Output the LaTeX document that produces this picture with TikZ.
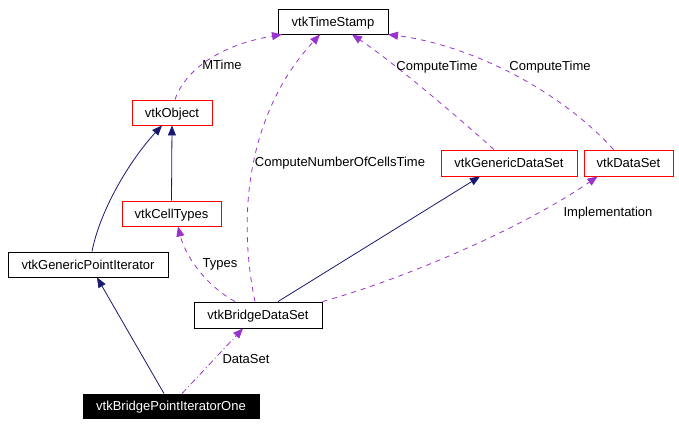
\documentclass[tikz,border=0pt]{standalone}
\usepackage{fontspec}
\setmainfont{Liberation Sans}
\usetikzlibrary{arrows.meta,calc}
\definecolor{navy}{HTML}{191970}
\definecolor{purp}{HTML}{9A32CD}
\begin{document}
\begin{tikzpicture}[x=1pt,y=-1pt,
  box/.style={draw=black,line width=0.9pt,rectangle,inner sep=0pt,font=\fontsize{13}{15}\selectfont,fill=white,text height=9.3pt,text depth=0pt},
  redbox/.style={box,draw=red},
  inh/.style={draw=navy,line width=0.8pt,-{Triangle[length=10pt,width=8pt,fill=navy]}},
  dep/.style={draw=purp,line width=0.8pt,dash pattern=on 5pt off 5pt,-{Triangle[length=10pt,width=8pt,fill=purp]}},
  depdot/.style={dep,dash pattern=on 6pt off 3pt on 1pt off 3pt},
  lbl/.style={font=\fontsize{13}{15}\selectfont,inner sep=0pt,text height=9.3pt,text depth=0pt}]
\useasboundingbox (0,0) rectangle (679,426);
\fill[white] (0,0) rectangle (679,426);
\node[box,minimum width=110pt,minimum height=25pt] (ts) at (333,21.5) {vtkTimeStamp};
\node[redbox,minimum width=80pt,minimum height=25pt] (obj) at (172,112.5) {vtkObject};
\node[redbox,minimum width=99pt,minimum height=25pt] (ct) at (171.5,213.5) {vtkCellTypes};
\node[box,minimum width=160pt,minimum height=25pt] (gpi) at (88,264.5) {vtkGenericPointIterator};
\node[box,minimum width=128pt,minimum height=26pt] (bds) at (258,315) {vtkBridgeDataSet};
\node[box,fill=black,text=white,minimum width=176pt,minimum height=24pt] (bpi) at (171,406) {vtkBridgePointIteratorOne};
\node[redbox,minimum width=136pt,minimum height=26pt] (gds) at (509,163) {vtkGenericDataSet};
\node[redbox,minimum width=89pt,minimum height=26pt] (ds) at (628.5,163) {vtkDataSet};
% inheritance
\draw[inh] (ct.north) -- (obj.south);
\draw[inh] ([xshift=4pt]gpi.north) .. controls (100,210) and (130,160) .. ([xshift=-10pt]obj.south);
\draw[inh] ([xshift=-7pt]bpi.north) -- ([xshift=9pt]gpi.south);
\draw[inh] ([xshift=20pt]bds.north) -- ([xshift=-29pt]gds.south);
% dependencies
\draw[dep] ([xshift=3pt]obj.north) .. controls (185,70) and (220,45) .. ([xshift=-51pt]ts.south);
\node[lbl] (l1) at (222,65) {MTime};
\draw[dep] ([xshift=-3pt]bds.north) .. controls (236,210) and (250,110) .. ([xshift=-13pt]ts.south);
\node[lbl] (l2) at (340,162) {ComputeNumberOfCellsTime};
\draw[dep] ([xshift=-15pt]gds.north) .. controls (450,110) and (390,60) .. ([xshift=19pt]ts.south);
\node[lbl] (l3) at (437,66) {ComputeTime};
\draw[dep] ([xshift=-15pt]ds.north) .. controls (560,90) and (470,45) .. ([xshift=55pt]ts.south);
\node[lbl] (l4) at (550,66) {ComputeTime};
\draw[dep] ([xshift=-23pt]bds.north) .. controls (205,285) and (185,255) .. ([xshift=6.5pt]ct.south);
\node[lbl] (l5) at (220,263) {Types};
\draw[dep] (bds.north east) .. controls (400,280) and (520,230) .. ([xshift=-31pt]ds.south);
\node[lbl] (l6) at (608,212) {Implementation};
\draw[depdot] ([xshift=11pt]bpi.north) -- ([xshift=-15pt]bds.south);
\node[lbl] (l7) at (246,359) {DataSet};
\end{tikzpicture}
\end{document}
